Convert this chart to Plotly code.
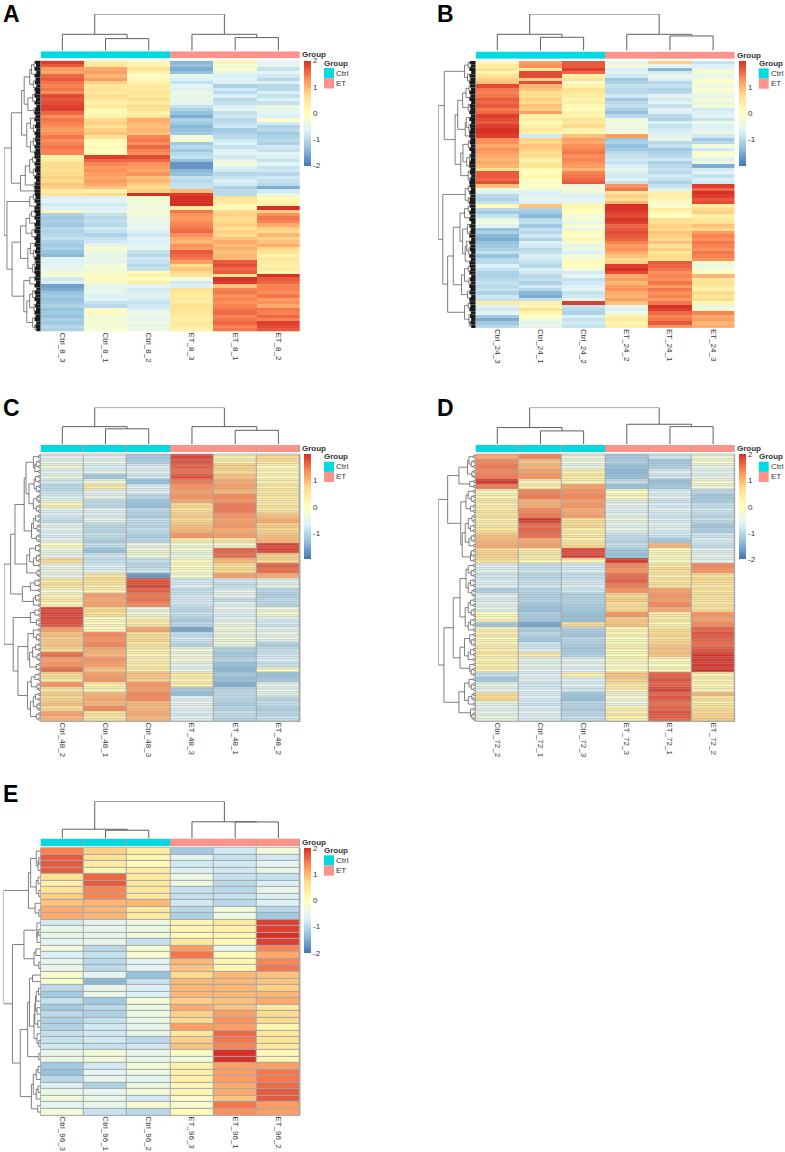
import numpy as np
import plotly.graph_objects as go

W, H = 785, 1152
FONT = "Liberation Sans"
HEAT_SCALE = ["#4575B4", "#91BFDB", "#E0F3F8", "#FFFFBF", "#FEE090", "#FC8D59", "#D73027"]
GROUP_CODES = [0, 0, 0, 1, 1, 1]
GROUP_NAMES = ["Ctrl", "ET"]
GROUP_COLORS = ["#00DAE0", "#FF9289"]

# ---------- Panel A ----------
A_labels = ["Ctrl_8_3", "Ctrl_8_1", "Ctrl_8_2", "ET_8_3", "ET_8_1", "ET_8_2"]
A_Ctrl_8_3 = [1.9,1.7,1.2,1.1,1.6,1.7,1.5,1.4,1.5,1.3,
              1.8,1.7,1.8,1.9,1.9,1.6,1.3,1.5,1.4,1.3,
              1.2,1.3,1.5,1.3,1.4,1.5,1.4,1.4,.3,.4,
              .7,.7,.6,.7,.8,.7,.9,.8,.4,.6,
              -.7,-.6,-.8,-.7,.2,-1.1,-1.2,-1.1,-1.2,-1.0,
              -1.1,-1.0,-.9,-1.1,-1.2,-1.1,-1.3,-1.4,-.6,-.7,
              -.6,-.5,-.3,-.2,-.8,-.7,-1.6,-1.5,-1.3,-1.2,
              -1.3,-1.2,-1.1,-1.3,-1.2,-1.3,-1.1,-1.2,-1.0,-1.1]
A_Ctrl_8_1 = [.4,.5,1.1,1.2,1.0,1.2,.8,.5,.6,.4,
              .7,.5,.3,.5,.2,.1,.3,.7,.8,.6,
              .8,.9,.6,.1,.0,.1,.0,.1,1.9,1.6,
              1.4,1.2,1.3,1.2,1.1,1.2,1.1,.9,.3,.7,
              -.7,-.6,-.8,-.7,-.5,-.9,-1.0,-.9,-1.0,-.8,
              -.9,-1.1,-.9,-.8,-.5,-.1,-.4,-.6,-.4,-.6,
              -.2,-.3,-.2,-.1,.1,-.3,-.5,-.6,-.5,-.7,
              -.6,-.9,-1.0,-.2,.1,-.4,-.3,-.2,-.3,-.2]
A_Ctrl_8_2 = [.2,.3,.6,.3,-.1,.1,.3,.5,.4,.6,
              .5,.7,.4,.7,.6,.3,.6,1.1,1.0,.9,
              1.0,.9,1.4,1.5,1.3,1.6,1.4,1.3,1.8,1.6,
              1.3,1.2,1.1,1.3,.9,1.0,.8,.7,.8,2.0,
              -.2,-.3,-.3,-.4,-.2,-.3,-.5,-.4,-.6,-.5,
              -.7,-.8,-.6,-.7,-.6,-.5,-.9,-1.0,-.8,-.9,
              -1.0,-.9,.1,.3,-.1,.4,-.6,-.8,-.7,-.6,
              -.8,-.9,-.8,-.7,-.4,-.5,-.6,-.4,-.5,-.4]
A_ET_8_3 = [-1.4,-1.3,-1.5,-1.3,-.5,-.7,-.9,-.6,-.7,-.4,
            -.5,-.4,-.6,-.9,-1.1,-1.3,-1.5,-1.1,-1.2,-1.4,
            -1.3,-1.2,-.3,-.2,-1.2,-1.0,-1.2,-1.0,-.9,-1.3,
            -1.7,-1.7,-1.4,-1.3,-.9,-1.0,-.9,-.9,1.0,1.9,
            2.0,2.0,2.0,.4,1.5,1.3,1.2,1.3,1.4,1.5,
            1.6,1.3,1.1,1.0,1.3,1.2,1.7,1.6,1.5,1.2,
            .7,.9,.7,.6,-.3,-.8,-.7,.6,.5,.4,
            .5,.4,.6,.5,.5,.4,.3,.5,.4,.3]
A_ET_8_1 = [.3,-.3,-.2,-.4,-.7,-.6,-.7,-1.1,-.8,-1.0,
            -.7,-1.0,-.9,-.7,-.5,-.9,-.8,-1.0,-.9,-.8,
            -1.2,-1.1,-1.0,-.8,-.7,-.9,-.7,-.6,-.8,-.5,
            -.3,-.7,-.8,-1.0,-.9,-.7,-.8,-1.1,-1.0,-1.0,
            .6,.5,.2,.1,.7,.8,.7,.7,.8,.6,
            .8,.7,.9,1.1,.9,1.1,.9,1.0,1.0,1.7,
            1.8,1.6,1.7,.6,2.0,1.9,.9,1.4,1.5,1.3,
            1.4,1.3,1.4,1.5,1.6,1.4,1.5,1.6,1.4,1.5]
A_ET_8_2 = [-.6,-.5,-.9,-.6,-.8,-1.0,-.7,-1.0,-1.0,-.7,
            -.9,-.7,-.9,-.4,-.5,-.6,-.7,-.1,-.8,-1.1,
            -1.0,-1.2,-1.1,-1.0,-1.1,-.8,-.9,-.6,-.7,-.9,
            -.6,-.9,-.8,-1.0,-.8,-.9,-1.0,-1.5,-.8,-.5,
            .1,.2,.3,2.0,.8,1.3,1.5,1.4,1.1,.8,
            .7,1.0,.8,.9,1.1,.7,.6,.2,.5,.4,
            .3,.4,.2,2.0,1.7,1.6,1.4,1.4,1.3,1.5,
            1.2,1.3,1.1,1.5,1.4,1.6,1.4,1.9,1.8,1.7]
A_row_merges = [.18,.12,.25,.1,.3,.14,.2,.1,.45,.16,
                .22,.12,.35,.1,.18,.52,.15,.28,.12,.2,
                .1,.38,.14,.2,.12,.28,.16,.8,.22,.12,
                .3,.14,.2,.1,.42,.12,.18,.55,1.0,.2,
                .14,.3,.1,.92,.25,.14,.3,.12,.4,.16,
                .24,.1,.55,.14,.28,.12,.2,.1,.35,.16,
                .12,.22,.78,.14,.3,.12,.46,.1,.22,.14,
                .3,.1,.18,.12,.38,.14,.22,.1,.16]
A_col_merges = [.445, .327, 1.0, .445, .355]

# ---------- Panel B ----------
B_labels = ["Ctrl_24_3", "Ctrl_24_1", "Ctrl_24_2", "ET_24_2", "ET_24_1", "ET_24_3"]
B_Ctrl_24_3 = [.1,.4,.6,.2,.6,.8,.9,1.8,1.5,1.4,
               1.5,1.7,1.6,1.7,1.5,1.6,1.9,1.8,1.7,1.9,
               2.0,2.0,1.9,1.3,1.3,1.1,1.3,1.2,1.1,1.0,
               1.1,1.0,.6,1.7,1.7,1.6,1.8,.9,-.4,-.7,
               -1.0,-1.1,-.9,.1,-1.0,-1.2,-.9,-.5,-.3,-.6,
               -1.3,-1.1,-1.4,-1.5,-1.3,-1.2,-1.1,-.9,-1.3,-1.0,
               -1.0,-.7,-.9,-1.1,-1.1,-1.0,-.9,-1.0,-.9,-1.1,
               -.8,-.9,.4,-.7,-.8,-.6,-1.2,-1.5,-1.2,-1.0]
B_Ctrl_24_1 = [1.2,1.3,.5,1.8,1.8,.8,1.8,1.0,.9,.6,
               .7,.8,.7,.9,.8,1.2,.3,.4,.1,.3,
               .5,.3,-.8,.8,.7,.9,.8,.6,.7,.3,
               .4,.6,.1,.0,.2,.1,-.2,.0,-.4,-.7,
               -.6,-.5,-.7,.9,-1.1,-1.2,-1.4,-1.0,-.9,-1.2,
               -.9,-1.0,-.8,-1.1,-.7,-.8,-1.0,-.9,-.7,-.8,
               -.9,-1.0,-.7,-.8,-1.0,-.9,-1.1,-.8,-1.0,-1.4,
               -1.5,-.9,.3,.1,.6,.2,.0,-.3,-.6,-.5]
B_Ctrl_24_2 = [1.7,1.7,1.9,1.6,.3,.6,-.2,.3,.6,.5,
               .4,.2,.4,.1,.0,.3,.2,.6,.4,.7,
               .3,.2,.9,1.2,1.1,1.3,1.4,1.5,1.3,1.4,
               1.3,1.2,1.0,1.4,1.5,1.6,1.7,-.4,-.2,-.4,
               -.7,-.6,-.5,.2,.1,.0,-.3,-.2,-.6,-.2,
               -.5,.1,-.1,.2,-.2,-.5,-.4,-.7,-.3,-.2,
               .1,.0,-.3,-.8,-.6,-.9,-.8,-.7,-.6,-.9,
               -.8,-.5,1.9,-.9,-1.0,-1.1,-.7,-.9,-.8,-.9]
B_ET_24_2 = [-.5,-.3,-.7,-.6,-.8,-1.2,-1.1,-.9,-1.0,-1.0,
             -.8,-1.2,-1.0,-.9,-1.1,-1.3,-1.0,-.3,-.4,-.3,
             -.5,-.2,1.2,-1.2,-1.1,-1.3,-1.2,-1.0,-.9,-.8,
             -.9,-.7,-.5,-.7,-.8,-.6,-.9,1.3,1.5,.5,
             .8,.6,1.0,2.0,2.0,1.9,1.8,2.0,1.9,1.6,
             1.7,1.8,1.7,1.6,1.4,1.2,1.3,1.1,.9,.7,
             .8,1.9,2.0,1.8,1.1,1.2,1.0,1.2,1.3,1.1,
             1.0,1.2,.9,-.5,-.7,-.4,.3,.5,.2,.4]
B_ET_24_1 = [.8,-.6,-1.4,-.8,-.5,-.7,-1.0,-.9,-1.1,-1.0,
             -.6,-.8,-.6,-.9,-.6,-.7,-1.0,-1.1,-.7,-.9,
             -.8,-.7,-.6,-.5,-1.0,-.9,-1.2,-1.1,-1.0,-.8,
             -1.1,-1.0,-.9,-1.0,-.8,-.9,-1.1,-.9,-.7,.3,
             .3,.2,-.2,-.1,.4,.2,.0,.7,.6,.8,
             .7,.9,.8,.7,.9,.6,.8,.5,.7,.6,
             1.7,1.6,1.5,1.3,1.4,1.3,1.5,1.2,1.5,1.3,
             1.4,1.2,1.5,2.0,1.9,1.6,1.4,1.5,1.7,1.3]
B_ET_24_3 = [-.9,-.7,-.4,-.2,-.5,-.2,-.1,-.4,-.1,-.3,
             -.5,-.2,-.5,-.3,-.8,-.7,-.6,-.9,-.4,-.7,
             -.6,-.4,-.8,-1.2,-1.0,-.3,-.8,-.2,-.2,-.7,
             -.3,-1.5,-.8,-.6,-.9,-.7,-.8,1.9,1.6,2.0,
             1.9,1.7,1.8,.4,.7,.8,.3,.5,.6,.9,
             .7,1.2,1.4,1.3,1.5,1.4,1.3,1.5,1.4,1.3,
             -.2,-.4,-.2,.0,1.0,.5,.6,.4,.3,.7,
             .5,.7,.2,-.5,-.2,1.4,1.1,1.2,1.0,1.1]
B_row_merges = [.2,.12,.3,.1,.22,.15,.84,.18,.12,.26,
                .14,.35,.1,.2,.14,.48,.12,.25,.1,.18,
                .14,.28,.55,.14,.2,.12,.34,.1,.16,.12,
                .24,.4,.14,.2,.1,.16,1.0,.2,.12,.28,
                .14,.2,.88,.2,.12,.3,.14,.42,.1,.22,
                .12,.16,.35,.1,.24,.14,.18,.1,.28,.12,
                .6,.2,.14,.3,.1,.18,.12,.38,.14,.22,
                .1,.75,.2,.14,.3,.12,.18,.1,.16]
B_col_merges = [.445, .364, 1.0, .445, .4]

# ---------- Panel C ----------
C_labels = ["Ctrl_48_2", "Ctrl_48_1", "Ctrl_48_3", "ET_48_3", "ET_48_1", "ET_48_2"]
C_Ctrl_48_2 = [-.6,-.5,-.3,-.6,-.4,-.8,-1.0,-.9,-.7,-.4,
               .2,-.6,-.7,-.9,-.5,-.6,-.7,-.5,.0,-.4,
               -.5,.7,-.5,-.4,-.5,.4,.6,-.2,.2,.3,
               .1,1.9,1.9,1.9,1.8,1.2,.9,.8,.9,.7,
               1.6,1.2,1.3,1.6,.7,.5,1.3,.5,.8,.7,
               .9,.6,1.2,1.0]
C_Ctrl_48_1 = [-.6,-.5,-.7,-.6,-1.2,-.3,.5,-.6,-.5,-.9,
               -1.0,-.6,-.7,-.5,-1.0,-1.0,-.9,-1.1,-.9,-1.3,
               -.8,-.9,-.7,-.6,.5,.6,.4,.2,1.2,1.1,
               1.2,.7,.6,.0,.1,.0,1.4,1.3,1.4,1.1,
               1.0,1.3,1.2,.9,1.2,1.3,.3,.2,1.0,1.1,
               1.0,1.4,.5,.4]
C_Ctrl_48_3 = [-1.2,-1.1,-.7,-.6,-.8,-1.3,-.7,-.6,-1.0,-1.2,
               -1.3,-1.0,-1.1,-.9,-1.0,-.9,-1.1,-1.0,-.4,-.3,
               -.3,-.9,-1.0,-.8,-1.7,1.8,1.9,1.7,1.5,1.6,
               1.4,-.4,-.3,.3,.4,1.2,.6,.7,.5,.3,
               .2,.3,.3,.4,.9,.8,1.3,1.2,1.4,1.4,
               1.0,1.0,1.1,1.0]
C_ET_48_3 = [1.9,1.8,1.7,1.6,1.8,1.5,1.3,1.2,1.3,1.1,
             .7,.6,.8,.7,.9,1.0,1.3,.3,-.3,-.2,
             -.4,-.1,.0,-.1,-.2,-.8,-.7,-.9,-.8,-.7,
             -.8,-1.0,-.9,-1.1,-1.0,-1.6,-.9,-.8,-1.0,-.3,
             -.4,-.2,-.6,-.5,.4,.2,.3,-1.2,-1.3,-.6,
             -.5,-.6,-.7,-.6]
C_ET_48_1 = [.3,.4,.8,.7,.9,1.1,1.2,1.0,1.4,1.3,
             1.5,1.5,1.3,1.2,1.3,1.1,1.2,.5,-.2,1.7,
             1.6,1.0,.6,.7,1.2,-.8,-.9,-.6,-.5,-.9,
             -.6,-.5,-.7,-.6,-.4,-.3,-.4,-.3,-.4,-1.1,
             -1.2,-1.0,-1.3,-1.4,-1.2,-1.3,-1.5,-1.0,-.9,-1.0,
             -1.1,-1.0,-.9,-1.0]
C_ET_48_2 = [.7,.6,.1,.2,.1,.3,.4,.5,.4,.3,
             .5,.4,.9,1.1,.8,.7,.9,1.0,1.9,1.9,
             .8,.7,1.7,1.6,1.1,-.6,-.5,-1.0,-1.1,-.9,
             -1.0,-.3,-.2,-.7,-.8,-.6,-.4,-.5,-1.1,-.9,
             -.8,-.7,-.9,.1,-1.3,-1.2,-.5,-.6,-.4,-1.0,
             -.9,-1.1,-1.0,-.9]
C_row_merges = [.2,.12,.16,.4,.14,.18,.12,.32,.1,.2,
                .12,.45,.14,.2,.1,.25,.12,.7,.14,.3,
                .12,.2,.38,.1,.82,.16,.28,.5,.14,.2,
                1.0,.16,.28,.12,.75,.2,.12,.35,.14,.22,
                .1,.3,.12,.62,.16,.26,.1,.36,.14,.2,
                .1,.28,.12]
C_col_merges = [.48, .42, 1.0, .48, .38]

# ---------- Panel D ----------
D_labels = ["Ctrl_72_2", "Ctrl_72_1", "Ctrl_72_3", "ET_72_3", "ET_72_1", "ET_72_2"]
D_Ctrl_72_2 = [1.1,1.4,1.5,1.4,1.5,2.0,1.5,.1,.2,.4,
               .3,.4,.5,.3,.4,.5,.9,1.0,1.1,.7,
               .8,.6,-.7,-.6,-.8,-.7,-.6,-1.1,-.6,-.7,
               -.5,-.6,.0,.1,-1.2,.2,.3,.1,.2,.3,
               .4,.2,.3,.3,-.9,-1.2,-.5,-.6,.6,.7,
               -.5,-.6,-.5,-.4]
D_Ctrl_72_1 = [1.4,.9,1.0,1.2,1.3,.2,.3,1.4,1.5,1.0,
               1.1,1.4,1.5,2.0,1.6,1.7,1.6,1.1,1.2,.3,
               .4,.2,-.9,-.8,-1.0,-.9,-.8,-1.0,-1.1,-1.0,
               -1.2,-1.3,-1.1,-1.2,-1.6,-1.1,-1.0,-1.2,-.8,-.7,
               .4,-.6,-.5,-.6,-.7,-.6,-.8,-.7,-.6,-.7,
               -.8,-.7,-.6,-.7]
D_Ctrl_72_3 = [-.4,-.3,-.5,.3,.4,.2,1.2,1.3,1.4,1.2,
               1.3,1.1,1.2,.6,.7,.3,.4,.3,.7,1.9,
               1.9,.2,-.8,-.7,-.9,-.8,-.7,-.8,-1.1,-1.0,
               -1.1,-1.2,-1.3,-1.3,.7,-1.1,-1.2,-1.0,-1.1,-1.2,
               -1.1,-.6,-.5,-.7,.3,-.7,-.6,-.8,-1.2,-1.3,
               -1.0,-1.1,-1.0,-.9]
D_ET_72_3 = [-1.2,-1.1,-1.3,-1.4,-1.3,-.9,-1.3,.0,.1,-.6,
             -.5,-.7,-.5,-.4,-.6,-.5,-.9,-1.0,-.9,-1.2,
             -1.3,2.0,1.4,1.3,1.6,1.7,1.5,1.3,.7,.8,
             .6,.7,1.3,.8,.9,.1,.2,.0,.1,.2,
             .0,.1,-.1,.0,.9,.8,.4,.3,-.3,-.2,
             -.4,.2,.3,.2]
D_ET_72_1 = [-.8,-1.2,-1.1,-.7,-.8,-1.3,-1.2,-.7,-.6,-.8,
             -.7,-.6,-.8,-.7,-.6,-.7,-.8,-1.2,1.0,.0,
             .1,-.1,.5,.6,.4,.5,.6,1.2,1.3,1.2,
             1.4,1.1,.3,.4,.2,.6,.7,.6,.8,.9,
             .9,.1,.0,.2,1.7,1.8,1.7,1.9,1.7,1.8,
             1.6,1.7,1.8,1.7]
D_ET_72_2 = [-.3,-.2,-.4,-.6,-.5,-.2,-.3,-1.0,-1.2,-1.1,
             -.9,-.8,-1.0,-.9,-1.2,-1.1,-.8,-.7,-.9,-.6,
             -.5,-.6,1.4,1.3,.6,.7,.5,.5,.6,.4,
             .5,.6,1.3,1.2,1.4,1.7,1.8,1.7,1.6,1.8,
             2.0,2.0,2.0,2.0,.2,.3,.1,.2,1.0,.5,
             .4,.6,.7,.8]
D_row_merges = [.18,.12,.22,.1,.45,.16,.75,.2,.12,.26,
                .14,.4,.1,.2,.14,.28,.12,.18,.36,.12,
                .14,1.0,.2,.12,.26,.14,.2,.1,.42,.14,
                .2,.12,.28,.14,.2,.6,.16,.12,.3,.14,
                .2,.42,.16,.12,.85,.18,.12,.3,.1,.2,
                .45,.14,.1]
D_col_merges = [.455, .364, 1.0, .545, .48]

# ---------- Panel E ----------
E_labels = ["Ctrl_96_3", "Ctrl_96_1", "Ctrl_96_2", "ET_96_3", "ET_96_1", "ET_96_2"]
E_rows = [
    [1.4,.8,.4,-1.2,-.8,-.3],[1.7,.6,.2,-.6,-.9,-.8],[1.7,.4,.1,-.8,-.8,-.6],[1.7,.2,.4,-.7,-.8,-.5],
    [.6,1.6,.4,-.4,-.9,-.9],[.3,1.7,.5,-.4,-1.0,-.7],[.6,1.4,.5,-.9,-1.0,-.5],[.8,1.4,.5,-.9,-.9,-.7],
    [.9,1.0,1.0,-.8,-1.0,-.7],[1.1,1.0,.5,-1.0,-.3,-1.0],[1.1,1.0,.5,-1.1,-.4,-1.2],
    [-.8,-.6,-.4,.2,.5,1.9],[-.5,-.5,-.4,.2,.3,1.9],[-.5,-.5,-.3,.1,.2,2.0],[-.6,-.5,-.9,.5,.1,1.9],
    [-.3,-1.0,-.2,1.2,-.5,1.4],[-.7,-.9,-.2,1.5,.1,1.1],[-.5,-1.0,-.6,1.0,.2,1.4],[-.5,-1.0,-.6,.9,.2,1.5],
    [-.2,-.6,-1.3,.7,1.0,.9],[-.1,-1.4,-.9,1.0,1.0,.9],[-1.0,-.5,-.7,1.0,1.0,.8],[-1.2,-.5,-.7,1.0,1.0,1.0],
    [-.9,-1.2,-.3,.8,.9,1.1],[-1.2,-1.0,-.4,1.1,.9,.5],[-1.0,-1.1,-.4,.8,1.2,.7],[-1.1,-.9,-.5,.7,1.3,.7],
    [-1.1,-.8,-.5,1.2,1.2,.2],[-.9,-.8,-.5,.5,1.6,.5],[-.9,-.8,-1.0,.8,1.5,.6],[-.8,-.9,-.8,.9,1.4,.5],
    [-.5,-.3,-.5,-.1,2.0,.1],[-.4,-.3,-.5,-.3,2.0,.2],[-1.2,-.8,-.3,.3,1.2,1.2],[-1.3,-.6,-.4,.3,1.2,1.5],
    [-1.0,-.5,-.6,.3,1.2,1.5],[-.7,-1.1,-.4,.1,1.1,1.6],[-.5,-.6,-.3,.2,1.1,1.7],[-.3,-.5,-.8,-.1,.9,1.7],
    [-.6,-.5,-.2,-.2,1.5,1.2],[-.3,-.9,-1.0,.1,1.3,1.2],
]
E_row_merges = [.12,.05,.07,.27,.07,.12,.05,.33,.15,.05,1.0,
                .1,.05,.1,.45,.13,.18,.05,.76,
                .22,.3,.06,.12,.14,.1,.16,.08,.18,.1,.05,.35,.05,.55,.07,.12,.2,.07,.12,.25,.08]
E_col_merges = [.25, .223, 1.0, .45, .446]

BAND_LEAF_MERGE = 0.05
TICKS_WITH_2 = [-2, -1, 0, 1, 2]
TICKS_NO_2 = [-1, 0, 1]

panels = [
    dict(letter="A", lx=3, ly=14.5, xl=40.7, xr=300, yt=60.7, yb=332, bt=51.3, bb=58.7, dt=14, db=50.7, dl=4,
         labels=A_labels, z=np.array([A_Ctrl_8_3, A_Ctrl_8_1, A_Ctrl_8_2, A_ET_8_3, A_ET_8_1, A_ET_8_2]).T,
         rows=A_row_merges, cols=A_col_merges, ticks=TICKS_WITH_2, band=1, grid=False, stub=True),
    dict(letter="B", lx=437, ly=14, xl=475.7, xr=734.7, yt=61, yb=328.5, bt=51.7, bb=59, dt=14, db=50.7, dl=438.3,
         labels=B_labels, z=np.array([B_Ctrl_24_3, B_Ctrl_24_1, B_Ctrl_24_2, B_ET_24_2, B_ET_24_1, B_ET_24_3]).T,
         rows=B_row_merges, cols=B_col_merges, ticks=TICKS_NO_2, band=1, grid=False, stub=True),
    dict(letter="C", lx=3, ly=408.5, xl=40.7, xr=300, yt=455, yb=722.7, bt=445.7, bb=452.7, dt=408.3, db=445, dl=4,
         labels=C_labels, z=np.array([C_Ctrl_48_2, C_Ctrl_48_1, C_Ctrl_48_3, C_ET_48_3, C_ET_48_1, C_ET_48_2]).T,
         rows=C_row_merges, cols=C_col_merges, ticks=TICKS_NO_2, band=2, grid=True, stub=False),
    dict(letter="D", lx=437, ly=408.5, xl=475.7, xr=734.7, yt=455, yb=722.7, bt=445.7, bb=452.7, dt=408.3, db=445, dl=438.3,
         labels=D_labels, z=np.array([D_Ctrl_72_2, D_Ctrl_72_1, D_Ctrl_72_3, D_ET_72_3, D_ET_72_1, D_ET_72_2]).T,
         rows=D_row_merges, cols=D_col_merges, ticks=TICKS_WITH_2, band=2, grid=True, stub=False),
    dict(letter="E", lx=3, ly=795, xl=40.7, xr=300, yt=849.3, yb=1117.3, bt=840.3, bb=847.7, dt=802.7, db=840, dl=3.5,
         labels=E_labels, z=np.array(E_rows),
         rows=E_row_merges, cols=E_col_merges, ticks=TICKS_WITH_2, band=1, grid=True, stub=False),
]


def fx(px):
    return px / W


def fy(px):
    return 1 - px / H


def tree_segments(merges):
    """Tree from the merge height between each pair of neighbouring leaves."""
    pos, hgt = [], []

    def walk(lo, hi):
        if lo == hi:
            return float(lo), 0.0
        cut = lo + int(np.argmax(merges[lo:hi]))
        h = merges[cut]
        p1, h1 = walk(lo, cut)
        p2, h2 = walk(cut + 1, hi)
        pos.extend([p1, p1, p2, p2, None])
        hgt.extend([h1, h, h, h2, None])
        return (p1 + p2) / 2, h

    walk(0, len(merges))
    return pos, hgt


fig = go.Figure()
layout = dict(width=W, height=H, margin=dict(l=0, r=0, t=0, b=0, pad=0), autosize=False,
              paper_bgcolor="white", plot_bgcolor="white", showlegend=False,
              font=dict(family=FONT, color="#333333"))
shapes, annotations = [], []
LINE = dict(color="#5f5f5f", width=1)
GREY = "#a6a6a6"
axis_no = 0


def new_axes(xdom, ydom, xextra, yextra):
    global axis_no
    axis_no += 1
    sfx = "" if axis_no == 1 else str(axis_no)
    base = dict(showgrid=False, zeroline=False, showticklabels=False, ticks="", fixedrange=True, showline=False)
    layout["xaxis" + sfx] = {**base, "domain": xdom, "anchor": "y" + sfx, **xextra}
    layout["yaxis" + sfx] = {**base, "domain": ydom, "anchor": "x" + sfx, **yextra}
    return "x" + sfx, "y" + sfx


def grid_back(xa, ya, line=False):
    shapes.append(dict(type="rect", xref=xa + " domain", yref=ya + " domain", x0=0, x1=1, y0=0, y1=1,
                       layer="below", fillcolor=GREY, line=dict(color=GREY, width=1 if line else 0)))


def label(x, y, text, size=8, bold=False, xanchor="left", color="#333333"):
    annotations.append(dict(xref="paper", yref="paper", x=fx(x), y=fy(y), text=f"<b>{text}</b>" if bold else text,
                            showarrow=False, xanchor=xanchor, yanchor="middle", xshift=0, yshift=0,
                            borderpad=0, borderwidth=0,
                            font=dict(family=FONT, size=size, color=color)))


for p in panels:
    band = p["band"]
    z = np.repeat(p["z"], band, axis=0)
    n = z.shape[0]
    if band == 2:
        row_merges = []
        for i, m in enumerate(p["rows"]):
            row_merges += [BAND_LEAF_MERGE, m]
        row_merges.append(BAND_LEAF_MERGE)
    else:
        row_merges = p["rows"]
    xrange6 = [-0.5, 5.5]
    yrange_rows = [n - 0.5, -0.5]
    xdom = [fx(p["xl"]), fx(p["xr"])]

    # main heatmap
    xa, ya = new_axes(xdom, [fy(p["yb"]), fy(p["yt"])],
                      dict(range=xrange6, tickmode="array", tickvals=list(range(6)), ticktext=p["labels"],
                           showticklabels=True, tickangle=90, tickfont=dict(family=FONT, size=8, color="#333333"),
                           ticklen=0, tickcolor="rgba(0,0,0,0)"),
                      dict(range=yrange_rows))
    gaps = dict(xgap=1, ygap=(1 if band == 1 else 0.5)) if p["grid"] else {}
    if p["grid"]:
        grid_back(xa, ya, line=True)
    fig.add_trace(go.Heatmap(
        z=z, xaxis=xa, yaxis=ya, zmin=-2, zmax=2, colorscale=HEAT_SCALE, hoverinfo="skip", **gaps,
        colorbar=dict(x=fx(p["xr"] + 4), xanchor="left", xpad=0, y=fy(p["yt"]), yanchor="top", ypad=0,
                      len=105, lenmode="pixels", thickness=7, thicknessmode="pixels", outlinewidth=0,
                      tickmode="array", tickvals=p["ticks"], ticktext=[str(t) for t in p["ticks"]],
                      ticks="", ticklen=0, tickfont=dict(family=FONT, size=8, color="#333333")),
    ))

    # group annotation strip
    xa, ya = new_axes(xdom, [fy(p["bb"]), fy(p["bt"])], dict(range=xrange6), dict(range=[-0.5, 0.5]))
    if p["grid"]:
        grid_back(xa, ya)
    fig.add_trace(go.Heatmap(
        z=[GROUP_CODES], xaxis=xa, yaxis=ya, zmin=0, zmax=1, showscale=False, hoverinfo="skip",
        colorscale=[[0, GROUP_COLORS[0]], [0.5, GROUP_COLORS[0]], [0.5, GROUP_COLORS[1]], [1, GROUP_COLORS[1]]],
        **(dict(xgap=1) if p["grid"] else {}),
    ))

    # column dendrogram
    xa, ya = new_axes(xdom, [fy(p["db"]), fy(p["dt"])], dict(range=xrange6), dict(range=[0, 1]))
    cx, cy = tree_segments(p["cols"])
    fig.add_trace(go.Scatter(x=cx, y=cy, mode="lines", line=LINE, xaxis=xa, yaxis=ya,
                             hoverinfo="skip", cliponaxis=False))

    # row dendrogram
    xa, ya = new_axes([fx(p["dl"]), fx(p["xl"])], [fy(p["yb"]), fy(p["yt"])],
                      dict(range=[1, 0]), dict(range=yrange_rows))
    ry, rx = tree_segments(row_merges)
    fig.add_trace(go.Scatter(x=rx, y=ry, mode="lines", line=dict(color="#5f5f5f", width=0.8), xaxis=xa, yaxis=ya,
                             hoverinfo="skip", cliponaxis=False))
    if p["stub"]:
        sx, sy = [], []
        for i in range(n):
            merge_here = row_merges[i] if i < n - 1 else 0.1
            sx += [0, min(0.08 + 0.4 * merge_here, 0.17), None]
            sy += [i, i, None]
        fig.add_trace(go.Scatter(x=sx, y=sy, mode="lines", line=dict(color="#1a1a1a", width=3.4), xaxis=xa, yaxis=ya,
                                 hoverinfo="skip", cliponaxis=False))

    # texts and legend
    label(p["lx"], p["ly"], p["letter"], size=23, bold=True, color="#000000")
    label(p["xr"] + 2, (p["bt"] + p["bb"]) / 2, "Group", bold=True)
    lg = p["xr"] + 24
    label(lg, p["yt"] + 2.7, "Group", bold=True)
    for k, (nm, col) in enumerate(zip(GROUP_NAMES, GROUP_COLORS)):
        top = p["yt"] + 7.5 + 10.2 * k
        shapes.append(dict(type="rect", xref="paper", yref="paper", x0=fx(lg), x1=fx(lg + 10), y0=fy(top + 10.2), y1=fy(top),
                           fillcolor=col, line=dict(width=0), layer="above"))
        label(lg + 12.3, top + 5.1, nm)

layout["shapes"] = shapes
layout["annotations"] = annotations
fig.update_layout(**layout)
fig.write_html("out.html", config={"displayModeBar": False},
               post_script="document.body.style.margin='0';document.documentElement.style.overflow='hidden';")
